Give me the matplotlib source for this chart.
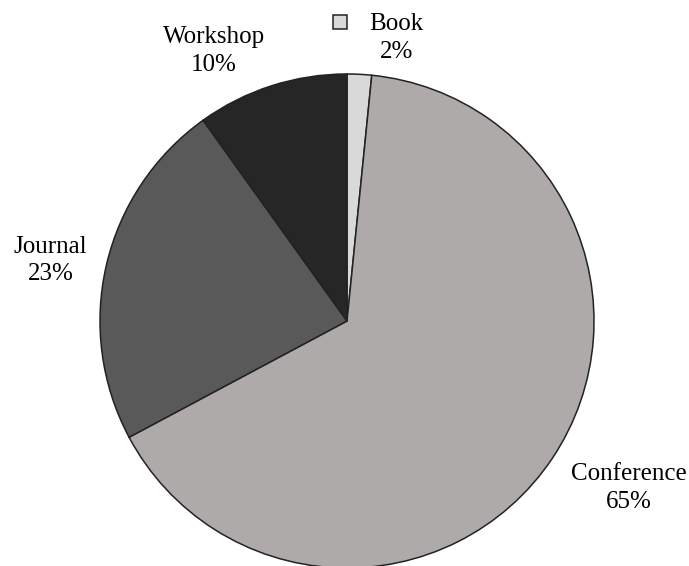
import matplotlib.pyplot as plt
from matplotlib.patches import Rectangle

categories = ['Book', 'Conference', 'Journal', 'Workshop']
shares = [1.6, 65.6, 22.9, 9.9]
pct_labels = ['2%', '65%', '23%', '10%']
colors = ['#d9d9d9', '#aeaaaa', '#595959', '#262626']

# label placement in pie units (radius = 1)
label_pos = [(0.20, 1.145), (1.14, -0.675), (-1.20, 0.245), (-0.54, 1.095)]

plt.rcParams['font.family'] = ['Liberation Serif', 'DejaVu Serif']

fig = plt.figure(figsize=(6.89, 5.66), dpi=100)
ax = fig.add_axes([0, 0, 1, 1])

cx, cy, r = 347, 321, 247
ax.pie(shares, colors=colors, startangle=90, counterclock=False,
       radius=1, wedgeprops=dict(edgecolor='#222222', linewidth=1.1))

for name, pct, (x, y) in zip(categories, pct_labels, label_pos):
    ax.text(x, y, f'{name}\n{pct}', ha='center', va='center',
            fontsize=18, linespacing=1.35, color='black')

# legend key next to the Book label
s = 14 / r
ax.add_patch(Rectangle((-0.03 - s / 2, 1.21 - s / 2), s, s,
                       facecolor=colors[0], edgecolor='#222222',
                       linewidth=1.1, clip_on=False))

ax.set_xlim(-cx / r, (689 - cx) / r)
ax.set_ylim(-(566 - cy) / r, cy / r)
ax.set_aspect('equal')
ax.axis('off')

fig.savefig('out.png', dpi=100)
